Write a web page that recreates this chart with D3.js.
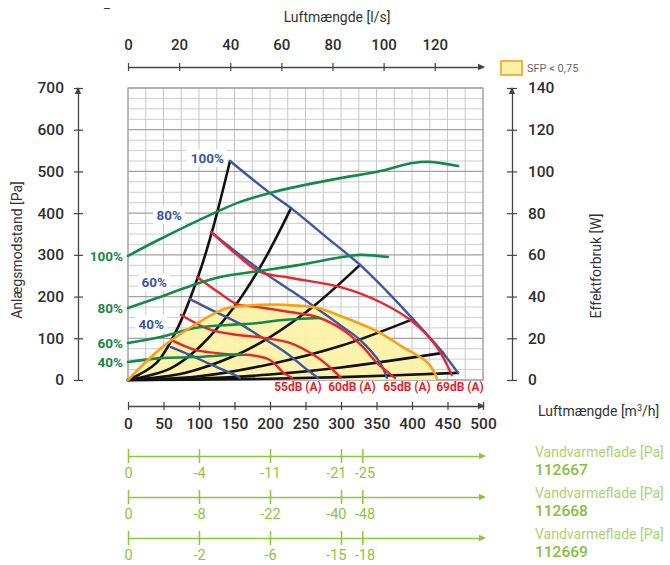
<!DOCTYPE html>
<html><head><meta charset="utf-8">
<script src="https://cdn.jsdelivr.net/npm/d3@7"></script>
<style>
body{margin:0;background:#fff;}
svg{display:block;font-family:Roboto,"DejaVu Sans",sans-serif;}
</style></head><body>
<svg id="c" width="670" height="565"></svg>
<script>
// ---------- DATA ----------
const qTicks = [0,50,100,150,200,250,300,350,400,450,500];        // m3/h
const lsTicks = [0,20,40,60,80,100,120];                          // l/s
const paTicks = [0,100,200,300,400,500,600,700];                  // Pa
const wTicks = [0,20,40,60,80,100,120,140];                       // W
const heaterQ = [0,100,200,300,330];                              // m3/h
const heater112667 = ["0","-4","-11","-21","-25"];
const heater112668 = ["0","-8","-22","-40","-48"];
const heater112669 = ["0","-2","-6","-15","-18"];
const heaterNames = ["112667","112668","112669"];

// system curves (black) [q m3/h, p Pa]
const sys1 = [[0,0],[40,41],[70,125],[100,254],[120,366],[143.7,525]];
const sys2 = [[0,0],[60,28],[100,78],[150,176],[190,282],[229.6,412]];
const sys3 = [[0,0],[80,17],[150,58],[200,103],[260,175],[326.8,276]];
const sys4 = [[0,0],[100,9],[200,38],[300,82],[401.4,146]];
const sys5 = [[0,0],[100,3.3],[200,13],[300,30],[443.7,65]];
const sys6 = [[0,0],[150,1.8],[300,7],[464.8,17]];

// fan curves (blue) [q, Pa]
const fan100 = [[143.7,525],[200,448],[229.6,412],[277.5,345],[326.8,276],[365,212],[401.4,146],[443.7,65],[464.8,17]];
const fan80  = [[116.9,355],[150.7,309],[185.9,264],[228,216],[259,180],[298.6,132],[326.8,96],[355,41],[364.8,5]];
const fan60  = [[87.3,194],[121,165],[155,137],[183,108],[221,67],[249,29],[267.6,5]];
const fan40  = [[60.6,79],[87.3,60],[115.5,38],[150.7,12],[157.7,5]];

// sound curves (red) [q, Pa]
const db69 = [[116.9,355],[153.5,300],[185.9,259],[228,245],[303,221],[355,187],[401.4,139],[435,79],[456,12]];
const db65 = [[97.2,247],[126.8,211],[153.5,182],[183,175],[228,163],[266,151],[303,120],[331,79],[350.7,41],[376,5]];
const db60 = [[74.6,156],[116.9,120],[155,108],[183,103],[228,89],[266,55],[288.7,24],[300,5]];
const db55 = [[60.6,96],[94.4,72],[122.5,65],[155,60],[171.8,60],[200,48],[218,19],[231,5]];
const dbLabels = ["55dB (A)","60dB (A)","65dB (A)","69dB (A)"];

// power curves (green) [q, W]
const pow100 = [[0,59.5],[42,67],[125,80.6],[158,85.4],[200,89.7],[228,92],[299,96.8],[351,99.8],[401,104],[425,104.6],[465,102.6]];
const pow80  = [[0,34.5],[45,39.8],[87,45],[130,49.4],[186,52.3],[242,55.2],[294,58.5],[327,60],[366,59]];
const pow60  = [[0,17.7],[46,20.6],[94,24.9],[141,26.4],[183,27.3],[218,28.8],[270,29.7]];
const pow40  = [[0,8.6],[46,10.5],[94,11],[160,12.5]];
const pctLabels = ["100%","80%","60%","40%"];

// SFP < 0.75 boundary (orange) [q, Pa]
const sfp = [[0,0],[28,48],[56,89],[89,127],[123,161],[141,173],[159,177],[183,180],[218,180],[266,173],[303,151],[331,132],[355,113],[387,79],[421,43],[432,17],[435,3]];

// ---------- CHART ----------
const svg = d3.select("#c");
const x  = d3.scaleLinear().domain([0,500]).range([128,483]);
const xL = d3.scaleLinear().domain([0,500/3.6]).range([128,483]);
const yP = d3.scaleLinear().domain([0,700]).range([380,88]);
const yW = d3.scaleLinear().domain([0,140]).range([380,88]);

const C = {blue:"#3c55a5", red:"#e8262b", green:"#13894a", black:"#111", orange:"#f7a11a",
           fill:"#fdf2a9", lg:"#8cc63f", axis:"#444", text:"#2e2e2e"};

// grid
const grid = svg.append("g");
d3.range(0,501,25).forEach(q=>{
  grid.append("line").attr("x1",x(q)).attr("x2",x(q)).attr("y1",yP(0)).attr("y2",yP(700))
    .attr("stroke","#c6c6c6").attr("stroke-width",1);
});
d3.range(0,701,25).forEach(p=>{
  grid.append("line").attr("x1",x(0)).attr("x2",x(500)).attr("y1",yP(p)).attr("y2",yP(p))
    .attr("stroke", p%100===0 ? "#a2a2a2" : "#cdcdcd").attr("stroke-width", p%100===0?1.2:1);
});
grid.append("rect").attr("x",x(0)).attr("y",yP(700)).attr("width",x(500)-x(0)).attr("height",yP(0)-yP(700))
  .attr("fill","none").attr("stroke","#a0a0a0").attr("stroke-width",1.2);

// SFP fill
const areaP = d3.area().x(d=>x(d[0])).y0(yP(0)).y1(d=>yP(d[1])).curve(d3.curveCatmullRom);
svg.append("path").datum(sfp).attr("d",areaP).attr("fill",C.fill).attr("opacity",0.95);

// white boxes for blue labels
const blueLabelPos = [[224,158],[182,215],[167,282],[164,324]];
blueLabelPos.forEach((p,i)=>{
  const w = pctLabels[i].length*8.6+6;
  svg.append("rect").attr("x",p[0]-w+3).attr("y",p[1]-9).attr("width",w).attr("height",18).attr("fill","#fff");
});

const lineP = d3.line().x(d=>x(d[0])).y(d=>yP(d[1])).curve(d3.curveCatmullRom);
const lineW = d3.line().x(d=>x(d[0])).y(d=>yW(d[1])).curve(d3.curveCatmullRom);

function draw(data, gen, color, w){
  svg.append("path").datum(data).attr("d",gen).attr("fill","none").attr("stroke",color)
    .attr("stroke-width",w).attr("stroke-linecap","round").attr("stroke-linejoin","round");
}
[sys1,sys2,sys3,sys4,sys5,sys6].forEach(d=>draw(d,lineP,C.black,2.6));
[fan100,fan80,fan60,fan40].forEach(d=>draw(d,lineP,C.blue,2.4));
[db69,db65,db60,db55].forEach(d=>draw(d,lineP,C.red,2.4));
[pow100,pow80,pow60,pow40].forEach(d=>draw(d,lineW,C.green,2.6));
draw(sfp,lineP,C.orange,2.6);

// blue labels
blueLabelPos.forEach((p,i)=>{
  svg.append("text").attr("x",p[0]).attr("y",p[1]+5).attr("text-anchor","end")
    .attr("font-size",13.5).attr("font-weight",700).attr("fill",C.blue).text(pctLabels[i]);
});
// green labels (at start of power curves)
[pow100,pow80,pow60,pow40].forEach((d,i)=>{
  svg.append("text").attr("x",123).attr("y",yW(d[0][1])+5).attr("text-anchor","end")
    .attr("font-size",13.5).attr("font-weight",700).attr("fill",C.green).text(pctLabels[i]);
});
// dB labels
const dbX = [298,352,407,460];
dbLabels.forEach((t,i)=>{
  svg.append("text").attr("x",dbX[i]).attr("y",391).attr("text-anchor","middle")
    .attr("font-size",12).attr("font-weight",700).attr("fill",C.red).text(t);
});

// arrow helper
function arrow(px,py,dir,color){
  let d;
  if(dir==="right") d=`M${px-7},${py-3.2}L${px},${py}L${px-7},${py+3.2}Z`;
  else d=`M${px-3.2},${py+7}L${px},${py}L${px+3.2},${py+7}Z`;
  svg.append("path").attr("d",d).attr("fill",color);
}
function styleAxis(g,color,fs,fw){
  g.select(".domain").attr("stroke",color).attr("stroke-width",1.3);
  g.selectAll(".tick line").attr("stroke",color).attr("stroke-width",1.2);
  g.selectAll(".tick text").attr("fill",null).style("fill",C.text)
    .attr("font-size",fs).attr("font-weight",fw).attr("font-family","Roboto,'DejaVu Sans',sans-serif");
}

// top axis (l/s)
const gTop = svg.append("g").attr("transform","translate(0,67)")
  .call(d3.axisTop(xL).tickValues(lsTicks).tickSize(4).tickSizeOuter(0).tickPadding(13));
styleAxis(gTop,C.axis,15,500);
gTop.selectAll(".tick line").attr("y1",4);
arrow(485,67,"right",C.axis);
svg.append("text").attr("x",337).attr("y",22).attr("text-anchor","middle").attr("font-size",14)
  .attr("fill","#333").text("Luftmængde [l/s]");

// left axis (Pa)
const gLeft = svg.append("g").attr("transform","translate(78,0)")
  .call(d3.axisLeft(yP).tickValues(paTicks).tickSize(4).tickSizeOuter(0).tickPadding(10));
styleAxis(gLeft,C.axis,15.5,500);
gLeft.selectAll(".tick line").attr("x1",5);
arrow(78,87,"up",C.axis);
svg.append("text").attr("transform","translate(22,250) rotate(-90)").attr("text-anchor","middle")
  .attr("font-size",14).attr("fill","#333").text("Anlægsmodstand [Pa]");

// right axis (W)
const gRight = svg.append("g").attr("transform","translate(512,0)")
  .call(d3.axisRight(yW).tickValues(wTicks).tickSize(5).tickSizeOuter(0).tickPadding(11));
styleAxis(gRight,C.axis,15.5,500);
gRight.selectAll(".tick line").attr("x1",-5);
arrow(512,87,"up",C.axis);
svg.append("text").attr("transform","translate(601,266) rotate(-90)").attr("text-anchor","middle")
  .attr("font-size",14).attr("fill","#333").text("Effektforbruk [W]");

// SFP legend
svg.append("rect").attr("x",501).attr("y",61).attr("width",21).attr("height",14)
  .attr("fill",C.fill).attr("stroke",C.orange).attr("stroke-width",1.6);
svg.append("text").attr("x",527).attr("y",72).attr("font-size",11).attr("fill","#666").text("SFP < 0,75");

// bottom axis (m3/h)
const gBot = svg.append("g").attr("transform","translate(0,406)")
  .call(d3.axisBottom(x).tickValues(qTicks).tickSize(4).tickSizeOuter(0).tickPadding(8));
styleAxis(gBot,C.axis,15.5,500);
gBot.selectAll(".tick line").attr("y1",-4);
arrow(485,406,"right",C.axis);
svg.append("text").attr("x",538).attr("y",416).attr("font-size",14).attr("fill","#333")
  .html("Luftmængde [m<tspan dy='-5' font-size='9'>3</tspan><tspan dy='5'>/h]</tspan>");

// heater axes
[heater112667,heater112668,heater112669].forEach((labels,k)=>{
  const yy = 456 + k*41;
  const g = svg.append("g").attr("transform",`translate(0,${yy})`)
    .call(d3.axisBottom(x).tickValues(heaterQ).tickFormat((d,i)=>labels[i])
      .tickSize(7).tickSizeOuter(0).tickPadding(5));
  g.select(".domain").attr("stroke",C.lg).attr("stroke-width",1.5);
  g.selectAll(".tick line").attr("stroke",C.lg).attr("stroke-width",1.5).attr("y1",-7);
  g.selectAll(".tick text").style("fill",C.lg).attr("font-size",14.5).attr("font-weight",400)
    .attr("font-family","Roboto,'DejaVu Sans',sans-serif")
    .attr("text-anchor",(d,i)=> i===3 ? "end" : (i===4 ? "start" : "middle"))
    .attr("dx",(d,i)=> i===3 ? 5 : (i===4 ? -8 : 0));
  arrow(486,yy,"right",C.lg);
  svg.append("text").attr("x",535).attr("y",yy+1).attr("font-size",14).attr("fill","#a9d46f")
    .text("Vandvarmeflade [Pa]");
  svg.append("text").attr("x",535).attr("y",yy+19).attr("font-size",15.5).attr("font-weight",500)
    .attr("fill","#86c03a").text(heaterNames[k]);
});

// stray mark top-left
svg.append("text").attr("x",103).attr("y",13).attr("font-size",12).attr("fill","#333").text("–");
</script>
</body></html>
